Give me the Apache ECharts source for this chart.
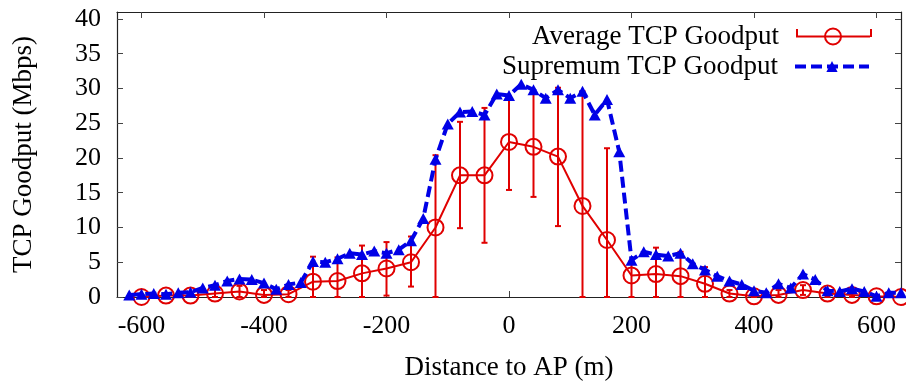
<!DOCTYPE html>
<html><head><meta charset="utf-8">
<script src="https://cdn.jsdelivr.net/npm/echarts@6/dist/echarts.min.js"></script>
<style>html,body{margin:0;padding:0;background:#fff}#c{width:906px;height:383px}</style>
</head><body><div id="c"></div>
<script>
// ---- data ----
const avgDist = [-600,-560,-520,-480,-440,-400,-360,-320,-280,-240,-200,-160,-120,-80,-40,0,40,80,120,160,200,240,280,320,360,400,440,480,520,560,600,640];
const avgVal  = [0,0.2,0.2,0.5,0.8,0.3,0.4,2.2,2.3,3.4,4.1,5.0,10.0,17.5,17.5,22.3,21.6,20.2,13.1,8.2,3.1,3.3,3.0,1.9,0.5,0.1,0.3,1.0,0.5,0.3,0.1,0.0];
const avgLow  = [0,0,0,0,0,0,0,0,0,0,0.2,1.5,0,9.9,7.8,15.4,14.4,10.2,0,0,0,0,0,0,0,0,0,0.3,0,0,0,0];
const avgHigh = [0.3,0.5,0.5,1.2,1.6,1.0,1.0,5.8,5.7,7.4,7.9,8.7,20.4,25.2,27.2,28.8,29.2,30.1,29.6,21.4,5.1,7.1,6.5,4.3,1.0,0.3,1.0,1.7,1.0,0.6,0.3,0.3];
const supDist = [-620,-600,-580,-560,-540,-520,-500,-480,-460,-440,-420,-400,-380,-360,-340,-320,
  -300,-280,-260,-240,-220,-200,-180,-160,-140,-120,-100,-80,-60,-40,-20,0,
  20,40,60,80,100,120,140,160,180,200,220,240,260,280,300,320,
  340,360,380,400,420,440,460,480,500,520,540,560,580,600,620,640];
const supVal = [0.3,0.4,0.5,0.4,0.6,0.7,1.3,1.7,2.3,2.6,2.5,2.0,1.1,1.8,2.1,5.1,
  5.0,5.5,6.3,6.1,6.6,6.3,6.8,8.1,11.3,19.8,24.9,26.6,26.7,26.2,29.2,29.0,
  30.6,29.8,28.6,29.8,28.6,29.6,26.2,28.4,20.9,5.3,6.5,6.1,5.9,6.3,4.8,3.9,
  3.0,2.3,1.8,0.9,0.6,1.9,1.3,3.3,2.5,0.9,0.8,1.2,0.8,0.1,0.6,0.6];
const xTicks = [-600,-400,-200,0,200,400,600];
const yTicks = [0,5,10,15,20,25,30,35,40];
const avgName = 'Average TCP Goodput';
const supName = 'Supremum TCP Goodput';

// ---- style ----
const RED = '#e00000', BLUE = '#0000e6';
const FONT = "'Liberation Serif','Times New Roman',serif";
const FS = 26, FSN = 27;

const chart = echarts.init(document.getElementById('c'), null, {renderer:'canvas'});
const axisBase = (extra) => Object.assign({
  type:'value', splitLine:{show:false},
  axisLine:{show:true, onZero:false, lineStyle:{color:'#222', width:1.2}}
}, extra);

const option = {
  animation:false,
  backgroundColor:'#fff',
  grid:{left:117, right:5, top:12, bottom:86, containLabel:false, outerBoundsMode:'none'},
  xAxis:[
    axisBase({position:'bottom', min:-640, max:640,
      axisTick:{show:true, inside:true, length:6, customValues:xTicks, lineStyle:{color:'#444'}},
      axisLabel:{show:true, customValues:xTicks, color:'#000', fontFamily:FONT, fontSize:FS, margin:16},
      name:'Distance to AP (m)', nameLocation:'middle', nameGap:57,
      nameTextStyle:{color:'#000', fontFamily:FONT, fontSize:FSN}}),
    axisBase({position:'top', min:-640, max:640,
      axisTick:{show:true, inside:true, length:6, customValues:xTicks, lineStyle:{color:'#444'}},
      axisLabel:{show:false}})
  ],
  yAxis:[
    axisBase({position:'left', min:0, max:41,
      axisTick:{show:true, inside:true, length:6, customValues:yTicks, lineStyle:{color:'#444'}},
      axisLabel:{show:true, customValues:yTicks, color:'#000', fontFamily:FONT, fontSize:FS, margin:16},
      name:'TCP Goodput (Mbps)', nameLocation:'middle', nameGap:80,
      nameTextStyle:{color:'#000', fontFamily:FONT, fontSize:FSN}}),
    axisBase({position:'right', min:0, max:41,
      axisTick:{show:true, inside:true, length:6, customValues:yTicks, lineStyle:{color:'#444'}},
      axisLabel:{show:false}})
  ],
  legend:[
    {data:[avgName], orient:'vertical', align:'right', right:30, top:18,
     itemWidth:74, itemHeight:20, textStyle:{color:'#000', fontFamily:FONT, fontSize:FSN, padding:[0,12,0,0]},
     itemStyle:{color:'rgba(0,0,0,0)', borderColor:RED, borderWidth:2},
     lineStyle:{color:RED, width:2}},
    {data:[supName], orient:'vertical', align:'right', right:30, top:48,
     itemWidth:74, itemHeight:14, textStyle:{color:'#000', fontFamily:FONT, fontSize:FSN, padding:[0,12,0,0]},
     itemStyle:{color:BLUE, borderWidth:0},
     lineStyle:{color:BLUE, width:4, type:[11,5]}}
  ],
  graphic:[
    {type:'line', shape:{x1:797,y1:29,x2:797,y2:37}, style:{stroke:RED, lineWidth:2}},
    {type:'line', shape:{x1:871,y1:29,x2:871,y2:37}, style:{stroke:RED, lineWidth:2}}
  ],
  series:[
    {type:'custom', name:'err', xAxisIndex:0, yAxisIndex:0, z:2, silent:true,
     data: avgDist.map((d,i)=>[d, avgLow[i], avgHigh[i]]),
     encode:{x:0, y:[1,2]},
     renderItem:(params, api)=>{
       const x = api.value(0);
       const p1 = api.coord([x, api.value(1)]);
       const p2 = api.coord([x, api.value(2)]);
       const w = 3, st = {stroke:RED, lineWidth:2};
       return {type:'group', children:[
         {type:'line', shape:{x1:p1[0],y1:p1[1],x2:p2[0],y2:p2[1]}, style:st},
         {type:'line', shape:{x1:p1[0]-w,y1:p1[1],x2:p1[0]+w,y2:p1[1]}, style:st},
         {type:'line', shape:{x1:p2[0]-w,y1:p2[1],x2:p2[0]+w,y2:p2[1]}, style:st}
       ]};
     }},
    {type:'line', name:avgName, z:3, data: avgDist.map((d,i)=>[d, avgVal[i]]),
     symbol:'circle', symbolSize:16, showAllSymbol:true,
     itemStyle:{color:'rgba(0,0,0,0)', borderColor:RED, borderWidth:2},
     lineStyle:{color:RED, width:2}},
    {type:'line', name:supName, z:4, data: supDist.map((d,i)=>[d, supVal[i]]),
     symbol:'triangle', symbolSize:[12,11], showAllSymbol:true,
     itemStyle:{color:BLUE},
     lineStyle:{color:BLUE, width:4, type:[11,5]}}
  ]
};
chart.setOption(option);
</script>
</body></html>
